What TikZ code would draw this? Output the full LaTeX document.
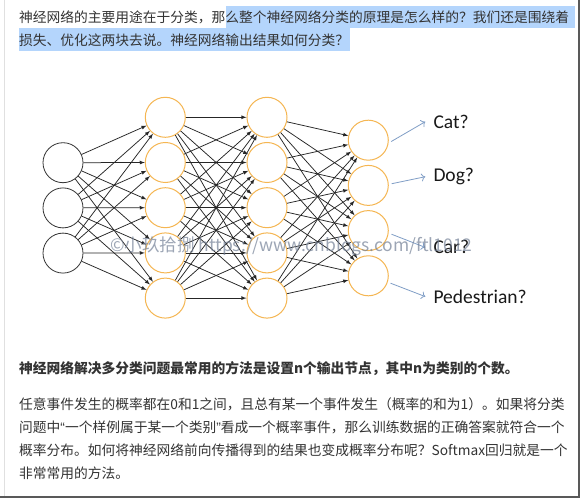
\documentclass[tikz,border=0pt]{standalone}
\usepackage{fontspec}
\setmainfont{Noto Sans CJK SC}
\newfontfamily\labelfont{Carlito}
\newfontfamily\latinfont{Liberation Sans}
\usetikzlibrary{arrows,arrows.meta,positioning}
\definecolor{txtgray}{RGB}{51,51,51}
\definecolor{neuronorange}{RGB}{245,182,82}
\definecolor{selblue}{RGB}{180,213,252}
\definecolor{outblue}{RGB}{128,158,198}
\definecolor{wmgray}{RGB}{115,128,150}
\tikzset{neuron/.style={draw,circle,minimum size=40pt,inner sep=0pt}}
\tikzstyle{hid}=[neuron, draw=neuronorange, line width=1pt]
\tikzstyle{inp}=[neuron, draw=black!80, line width=0.8pt]
\tikzstyle{syn}=[->, line width=0.75pt, black!85]
\tikzstyle{outarr}=[-{To[length=4pt,width=8pt]}, line width=0.8pt, outblue, shorten <=3pt]
\tikzstyle{txtline}=[anchor=base west, inner sep=0pt, text=txtgray, font=\fontsize{13.75}{16}\selectfont]
\tikzstyle{cls}=[anchor=base west, inner sep=0pt, inner xsep=8pt, text=black!90, font=\labelfont\fontsize{19.5}{22}\selectfont]

\begin{document}
\begin{tikzpicture}[x=1pt, y=-1pt, >=latex, node distance=45.2pt]
\fill[white] (0,0) rectangle (582,500);
\useasboundingbox (0,0) rectangle (582,500);
% page edge
\draw[black!12, line width=1pt] (4,0) -- (4,497);
\draw[black!65, line width=2pt] (0,497) -- (578.5,497) -- (578.5,0);

% selection
\fill[selblue] (226,6.5) rectangle (575,28.5);
\fill[selblue] (19,28.5) rectangle (350,51);
\node[txtline] (t1) at (19,22.1) {神经网络的主要用途在于分类，那么整个神经网络分类的原理是怎么样的？我们还是围绕着};
\node[txtline] (t2) at (19,45.1) {损失、优化这两块去说。神经网络输出结果如何分类？};

% input layer
\node[inp] (I1) at (63,162.7) {};
\node[inp][below of=I1] (I2) {};
\node[inp][below of=I2] (I3) {};
% hidden layers
\node[hid] (H1) at (165.3,117.3) {};
\node[hid][below of=H1] (H2) {};
\node[hid][below of=H2] (H3) {};
\node[hid][below of=H3] (H4) {};
\node[hid][below of=H4] (H5) {};
\node[hid] (K1) at (267,117.3) {};
\node[hid][below of=K1] (K2) {};
\node[hid][below of=K2] (K3) {};
\node[hid][below of=K3] (K4) {};
\node[hid][below of=K4] (K5) {};
% output layer
\node[hid] (O1) at (368.3,140.2) {};
\node[hid][below of=O1] (O2) {};
\node[hid][below of=O2] (O3) {};
\node[hid][below of=O3] (O4) {};

\foreach \i in {1,2,3}
  \foreach \j in {1,...,5}
    \path[syn] (I\i) edge (H\j);
\foreach \i in {1,...,5}
  \foreach \j in {1,...,5}
    \path[syn] (H\i) edge (K\j);
\foreach \i in {1,...,5}
  \foreach \j in {1,...,4}
    \path[syn] (K\i) edge (O\j);

% classes
\node[cls] (cat) at (425.3,128.3) {Cat?};
\node[cls] (dog) at (425.3,181.7) {Dog?};
\node[cls] (car) at (425.3,254) {Car?};
\node[cls] (ped) at (425.3,303.3) {Pedestrian?};
\path[outarr] (O1.-8) edge (cat.west)
(O2.3) edge (dog.west)
(O3.-7) edge (car.west)
(O4.-18) edge (ped.west);

\node[txtline, font=\fontsize{13.75}{16}\selectfont\bfseries] (b1) at (19,373.6) {神经网络解决多分类问题最常用的方法是设置n个输出节点，其中n为类别的个数。};
\node[txtline] (p1) at (19,409.6) {任意事件发生的概率都在0和1之间，且总有某一个事件发生（概率的和为1）。如果将分类};
\node[txtline] (p2) at (19,432.4) {问题中{\latinfont “}一个样例属于某一个类别{\latinfont ”}看成一个概率事件，那么训练数据的正确答案就符合一个};
\node[txtline] (p3) at (19,455.2) {概率分布。如何将神经网络前向传播得到的结果也变成概率分布呢？Softmax回归就是一个};
\node[txtline] (p4) at (19,478) {非常常用的方法。};

% watermark
\node[anchor=base west, inner sep=0pt, text=wmgray, opacity=0.7, font=\fontsize{17.5}{20}\selectfont] (wm) at (110,251.5) {©小玖拾捌 https://www.cnblogs.com/ftl1012};
\end{tikzpicture}
\end{document}
